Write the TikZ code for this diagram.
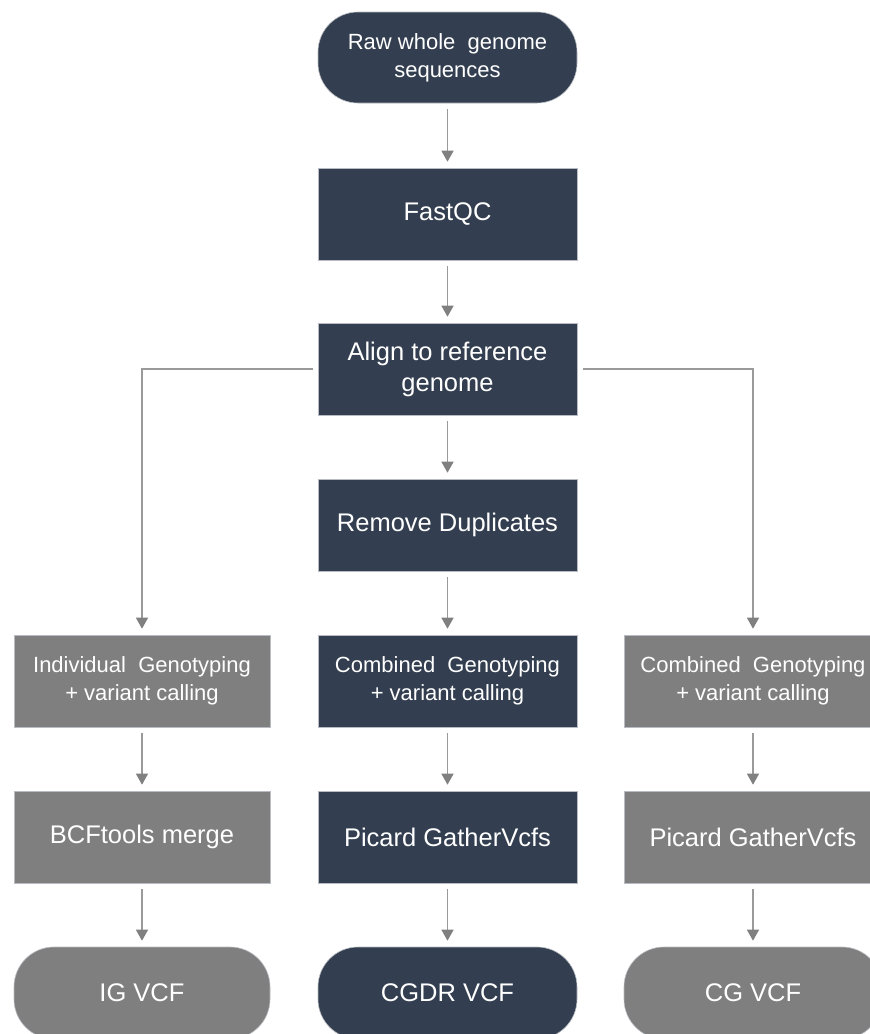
\documentclass[tikz,border=0pt]{standalone}
\usepackage{fontspec}
\setmainfont{Liberation Sans}
\usetikzlibrary{arrows.meta}
\definecolor{navy}{HTML}{333F50}
\definecolor{midgray}{HTML}{7F7F7F}
\definecolor{linegray}{HTML}{9A9A9A}
\definecolor{tipgray}{HTML}{808080}
\definecolor{edgegray}{HTML}{B8BCC2}
\tikzset{
  box/.style={rectangle, draw=edgegray, line width=0.6pt, text=white,
    minimum height=92pt, align=center, inner sep=0pt,
    font=\fontsize{25.5}{31}\selectfont},
  twoline/.style={font=\fontsize{22}{28}\selectfont},
  darkbox/.style={box, fill=navy},
  graybox/.style={box, fill=midgray},
  term/.style={rounded corners=40pt},
  wid/.style={minimum width=#1},
  arr/.style={draw=linegray, line width=1.3pt,
    -{Triangle[width=12pt,length=11pt,fill=tipgray,color=tipgray]},
    shorten <=6pt, shorten >=6pt},
}
\begin{document}
\begin{tikzpicture}[x=1pt,y=1pt]
\useasboundingbox (0,0) rectangle (870,-1034);
\clip (0,0) rectangle (870,-1034);
% middle column
\node[darkbox, twoline, term, wid=259pt, minimum height=91pt] (raw) at (447.5,-57.5) {Raw whole~ genome\\sequences};
\node[darkbox, wid=259pt] (fastqc) at (447.5,-214) {FastQC};
\node[darkbox, wid=259pt] (align) at (447.5,-369) {Align to reference\\genome};
\node[darkbox, wid=259pt] (dup) at (447.5,-525) {Remove Duplicates};
\node[darkbox, twoline, wid=259pt] (cgdr1) at (447.5,-681) {Combined~ Genotyping\\+ variant calling};
\node[darkbox, wid=259pt] (cgdr2) at (447.5,-837) {Picard GatherVcfs};
\node[darkbox, term, wid=259pt] (cgdr3) at (447.5,-993) {CGDR VCF};
% left column
\node[graybox, twoline, wid=256pt] (ig1) at (142,-681) {Individual~ Genotyping\\+ variant calling};
\node[graybox, wid=256pt] (ig2) at (142,-837) {BCFtools merge};
\node[graybox, term, wid=256pt] (ig3) at (142,-993) {IG VCF};
% right column
\node[graybox, twoline, wid=258pt] (cg1) at (753,-681) {Combined~ Genotyping\\+ variant calling};
\node[graybox, wid=258pt] (cg2) at (753,-837) {Picard GatherVcfs};
\node[graybox, term, wid=258pt] (cg3) at (753,-993) {CG VCF};
% connectors
\draw[arr] (raw) -- (fastqc);
\draw[arr] (fastqc) -- (align);
\draw[arr] (align) -- (dup);
\draw[arr] (dup) -- (cgdr1);
\draw[arr] (cgdr1) -- (cgdr2);
\draw[arr] (cgdr2) -- (cgdr3);
\draw[arr, shorten <=5pt] (align.west) -| (ig1);
\draw[arr] (ig1) -- (ig2);
\draw[arr] (ig2) -- (ig3);
\draw[arr, shorten <=6pt] (align.east) -| (cg1);
\draw[arr] (cg1) -- (cg2);
\draw[arr] (cg2) -- (cg3);
\end{tikzpicture}
\end{document}
